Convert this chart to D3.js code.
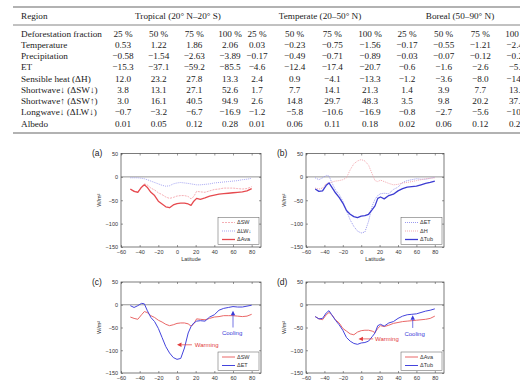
<!DOCTYPE html>
<html>
<head>
<meta charset="utf-8">
<script src="https://cdn.jsdelivr.net/npm/d3@7"></script>
<style>
  body { margin: 0; background: #fff; }
</style>
</head>
<body>
<div id="chart"></div>
<script>
// ---- table data ----
const regions = ['Tropical (20° N–20° S)', 'Temperate (20–50° N)', 'Boreal (50–90° N)'];
const fractions = ['25 %', '50 %', '75 %', '100 %'];
const rowLabels = ['Temperature', 'Precipitation', 'ET', 'Sensible heat (ΔH)',
  'Shortwave↓ (ΔSW↓)', 'Shortwave↑ (ΔSW↑)', 'Longwave↓ (ΔLW↓)', 'Albedo'];
const temperature = [0.53, 1.22, 1.86, 2.06, 0.03, -0.23, -0.75, -1.56, -0.17, -0.55, -1.21, -2.44];
const precipitation = [-0.58, -1.54, -2.63, -3.89, -0.17, -0.49, -0.71, -0.89, -0.03, -0.07, -0.12, -0.21];
const et = [-15.3, -37.1, -59.2, -85.5, -4.6, -12.4, -17.4, -20.7, -0.6, -1.6, -2.6, -5.3];
const sensible = [12.0, 23.2, 27.8, 13.3, 2.4, 0.9, -4.1, -13.3, -1.2, -3.6, -8.0, -14.2];
const swDown = [3.8, 13.1, 27.1, 52.6, 1.7, 7.7, 14.1, 21.3, 1.4, 3.9, 7.7, 13.6];
const swUp = [3.0, 16.1, 40.5, 94.9, 2.6, 14.8, 29.7, 48.3, 3.5, 9.8, 20.2, 37.4];
const lwDown = [-0.7, -3.2, -6.7, -16.9, -1.2, -5.8, -10.6, -16.9, -0.8, -2.7, -5.6, -10.5];
const albedo = [0.01, 0.05, 0.12, 0.28, 0.01, 0.06, 0.11, 0.18, 0.02, 0.06, 0.12, 0.25];
const rowValues = [temperature, precipitation, et, sensible, swDown, swUp, lwDown, albedo];
const rowDigits = [2, 2, 1, 1, 1, 1, 1, 2];

// ---- panel data (W/m2 by latitude) ----
const lat = [-50, -46, -42, -38, -35, -32, -28, -24, -20, -16, -12, -8, -4, 0, 4, 8, 12, 15, 18, 21, 25, 30, 35, 40, 45, 50, 55, 60, 65, 70, 75, 80];
const dSW = [-27, -30, -32, -22, -15, -17, -24, -28, -34, -38, -43, -46, -44, -41, -40, -40, -42, -47, -42, -31, -32, -33, -30, -27, -26, -24, -24, -24, -25, -26, -25, -21];
const dLW = [-2, -2, -2, -3, -4, -6, -9, -12, -15, -18, -20, -19, -15, -13, -12, -13, -14, -15, -16, -17, -17, -16, -15, -13, -12, -11, -10, -9, -8, -6, -5, -3];
const dAva = [-26, -31, -33, -22, -17, -22, -33, -40, -52, -58, -64, -66, -60, -57, -56, -56, -58, -61, -52, -46, -48, -45, -41, -39, -37, -36, -35, -34, -33, -32, -30, -25];
const dET = [-2, -6, -2, 3, 2, -12, -28, -37, -52, -72, -92, -106, -116, -120, -118, -95, -62, -48, -40, -36, -35, -36, -27, -22, -12, -8, -6, -4, -5, -5, -3, -1];
const dH = [-24, -26, -24, -14, -13, -11, -9, -8, -6, -2, 15, 28, 34, 37, 34, 25, 6, -8, -10, -7, -10, -14, -17, -16, -13, -12, -10, -8, -6, -4, -3, -2];
const dTub = [-26, -31, -30, -18, -13, -22, -34, -44, -56, -72, -80, -85, -87, -84, -83, -80, -70, -62, -46, -43, -47, -40, -37, -30, -25, -22, -21, -20, -17, -14, -12, -9];
const latTicks = [-60, -40, -20, 0, 20, 40, 60, 80];
const fluxTicks = [50, 0, -50, -100, -150];

const W = 520, H = 380;
const svg = d3.select('#chart').append('svg')
  .attr('width', W).attr('height', H);

// ---- table ----
const serif = 'Liberation Serif, Times New Roman, serif';
const ink = '#222';
const tbl = svg.append('g').attr('font-family', serif).attr('font-size', 9.2).attr('fill', ink);

const rowY = d3.scalePoint().domain(d3.range(9)).range([33.5, 123.5]);
const groupX = [[123, 230], [257, 370], [407, 517]];
const colX = i => {
  const g = Math.floor(i / 4);
  return d3.scalePoint().domain(d3.range(4)).range(groupX[g])(i % 4);
};

[7, 25, 133].forEach((yy, i) => {
  tbl.append('line').attr('x1', 13).attr('x2', W).attr('y1', yy).attr('y2', yy)
    .attr('stroke', '#666').attr('stroke-width', i === 1 ? 0.8 : 1.2);
});

tbl.append('text').attr('x', 21).attr('y', 16).attr('dy', '0.35em').text('Region');
tbl.selectAll('.grp').data(regions).join('text')
  .attr('x', (d, i) => [178, 320, 460][i])
  .attr('y', 16).attr('dy', '0.35em').attr('text-anchor', 'middle').text(d => d);

tbl.append('text').attr('x', 21).attr('y', rowY(0)).attr('dy', '0.35em').text('Deforestation fraction');
tbl.selectAll('.frac').data(d3.range(12)).join('text')
  .attr('x', i => colX(i)).attr('y', rowY(0)).attr('dy', '0.35em')
  .attr('text-anchor', 'middle').text(i => fractions[i % 4]);

rowLabels.forEach((lab, r) => {
  tbl.append('text').attr('x', 21).attr('y', rowY(r + 1)).attr('dy', '0.35em').text(lab);
  const fmt = d3.format('.' + rowDigits[r] + 'f');
  tbl.selectAll('.v' + r).data(rowValues[r]).join('text')
    .attr('x', (d, i) => colX(i)).attr('y', rowY(r + 1)).attr('dy', '0.35em')
    .attr('text-anchor', 'middle').text(d => fmt(d));
});

// ---- panels ----
const sans = 'Liberation Sans, Arial, sans-serif';
const red = '#e64a4f', blue = '#4444dd';

const panels = [
  { tag: '(a)', x0: 121, y0: 153.5, w: 140, h: 93.5, xlabel: true,
    series: [
      { name: 'ΔSW', v: dSW, color: '#f4a6ad', width: 0.9, dash: '2,1' },
      { name: 'ΔLW↓', v: dLW, color: '#9d9df0', width: 0.9, dash: '1,1' },
      { name: 'ΔAva', v: dAva, color: red, width: 1.3, dash: null }
    ], notes: [] },
  { tag: '(b)', x0: 306, y0: 153.5, w: 138, h: 93.5, xlabel: true,
    series: [
      { name: 'ΔET', v: dET, color: '#8f8fec', width: 0.9, dash: '1,1' },
      { name: 'ΔH', v: dH, color: '#f2a0a8', width: 0.9, dash: '1,1' },
      { name: 'ΔTub', v: dTub, color: '#3c3cd2', width: 1.3, dash: null }
    ], notes: [] },
  { tag: '(c)', x0: 121, y0: 282, w: 140, h: 91, xlabel: false,
    series: [
      { name: 'ΔSW', v: dSW, color: '#ea6868', width: 1, dash: null },
      { name: 'ΔET', v: dET, color: blue, width: 1, dash: null }
    ],
    notes: [
      { text: 'Cooling', color: '#3a3ad8', tx: 59, ty: -62, anchor: 'middle', from: [60, -50], to: [60, -13] },
      { text: 'Warming', color: '#e23a3a', tx: 19, ty: -88, anchor: 'start', from: [16, -88], to: [0, -88] }
    ] },
  { tag: '(d)', x0: 306, y0: 282, w: 138, h: 91, xlabel: false,
    series: [
      { name: 'ΔAva', v: dAva, color: '#ea6868', width: 1, dash: null },
      { name: 'ΔTub', v: dTub, color: blue, width: 1, dash: null }
    ],
    notes: [
      { text: 'Cooling', color: '#3a3ad8', tx: 58, ty: -64, anchor: 'middle', from: [56, -51], to: [56, -23] },
      { text: 'Warming', color: '#e23a3a', tx: 15, ty: -75, anchor: 'start', from: [13, -75], to: [-3, -75] }
    ] }
];

panels.forEach(p => {
  const g = svg.append('g').attr('font-family', sans);
  const x = d3.scaleLinear().domain([-60, 90]).range([p.x0, p.x0 + p.w]);
  const y = d3.scaleLinear().domain([-150, 50]).range([p.y0 + p.h, p.y0]);

  const styleAxis = sel => {
    sel.select('.domain').remove();
    sel.selectAll('line').attr('stroke', '#555').attr('stroke-width', 0.6);
    sel.selectAll('text').attr('font-size', 5.5).attr('fill', '#333').attr('font-family', sans);
  };
  g.append('g').attr('transform', `translate(0,${p.y0 + p.h})`)
    .call(d3.axisBottom(x).tickValues(latTicks).tickSize(-2).tickPadding(3)).call(styleAxis);
  g.append('g').attr('transform', `translate(0,${p.y0})`)
    .call(d3.axisTop(x).tickValues(latTicks).tickSize(-2).tickFormat('')).call(styleAxis);
  g.append('g').attr('transform', `translate(${p.x0},0)`)
    .call(d3.axisLeft(y).tickValues(fluxTicks).tickSize(-2).tickPadding(3)).call(styleAxis);
  g.append('g').attr('transform', `translate(${p.x0 + p.w},0)`)
    .call(d3.axisRight(y).tickValues(fluxTicks).tickSize(-2).tickFormat('')).call(styleAxis);

  g.append('rect').attr('x', p.x0).attr('y', p.y0).attr('width', p.w).attr('height', p.h)
    .attr('fill', 'none').attr('stroke', '#444').attr('stroke-width', 0.7);
  g.append('line').attr('x1', p.x0).attr('x2', p.x0 + p.w).attr('y1', y(0)).attr('y2', y(0))
    .attr('stroke', '#666').attr('stroke-width', 0.7);

  const line = d3.line().x((d, i) => x(lat[i])).y(d => y(d));
  p.series.forEach(s => {
    g.append('path').attr('d', line(s.v)).attr('fill', 'none')
      .attr('stroke', s.color).attr('stroke-width', s.width)
      .attr('stroke-dasharray', s.dash).attr('stroke-linejoin', 'round');
  });

  // annotations
  p.notes.forEach(n => {
    const x1 = x(n.from[0]), y1 = y(n.from[1]), x2 = x(n.to[0]), y2 = y(n.to[1]);
    const ang = Math.atan2(y2 - y1, x2 - x1);
    const hl = 4.5, hw = 2.2;
    const bx = x2 - hl * Math.cos(ang), by = y2 - hl * Math.sin(ang);
    g.append('line').attr('x1', x1).attr('y1', y1).attr('x2', bx).attr('y2', by)
      .attr('stroke', n.color).attr('stroke-width', 0.7);
    g.append('path')
      .attr('d', `M${x2},${y2}L${bx - hw * Math.sin(ang)},${by + hw * Math.cos(ang)}L${bx + hw * Math.sin(ang)},${by - hw * Math.cos(ang)}Z`)
      .attr('fill', n.color);
    g.append('text').attr('x', x(n.tx)).attr('y', y(n.ty)).attr('dy', '0.35em')
      .attr('text-anchor', n.anchor).attr('font-size', 6).attr('fill', n.color).text(n.text);
  });

  // legend
  const n = p.series.length;
  const lw = 41, rowH = 8.5, lh = n * rowH + 1.5;
  const lx = p.x0 + p.w - lw - 2, ly = p.y0 + p.h - lh - 2.5;
  g.append('rect').attr('x', lx).attr('y', ly).attr('width', lw).attr('height', lh)
    .attr('fill', '#fff').attr('stroke', '#555').attr('stroke-width', 0.5);
  p.series.forEach((s, i) => {
    const yy = ly + 5 + i * rowH;
    g.append('line').attr('x1', lx + 4).attr('x2', lx + 17).attr('y1', yy).attr('y2', yy)
      .attr('stroke', s.color).attr('stroke-width', s.width).attr('stroke-dasharray', s.dash);
    g.append('text').attr('x', lx + 19).attr('y', yy).attr('dy', '0.35em')
      .attr('font-size', 5.5).attr('fill', '#333').text(s.name);
  });

  // labels
  g.append('text').attr('x', p.x0 - 29).attr('y', p.y0).attr('dy', '0.35em')
    .attr('font-size', 8.5).attr('fill', '#222').text(p.tag);
  g.append('text')
    .attr('transform', `translate(${p.x0 - 20},${p.y0 + p.h / 2}) rotate(-90)`)
    .attr('text-anchor', 'middle').attr('font-size', 5.5).attr('fill', '#333').text('W/m²');
  if (p.xlabel) {
    g.append('text').attr('x', p.x0 + p.w / 2).attr('y', p.y0 + p.h + 14)
      .attr('text-anchor', 'middle').attr('font-size', 5.5).attr('fill', '#333').text('Latitude');
  }
});
</script>
</body>
</html>
